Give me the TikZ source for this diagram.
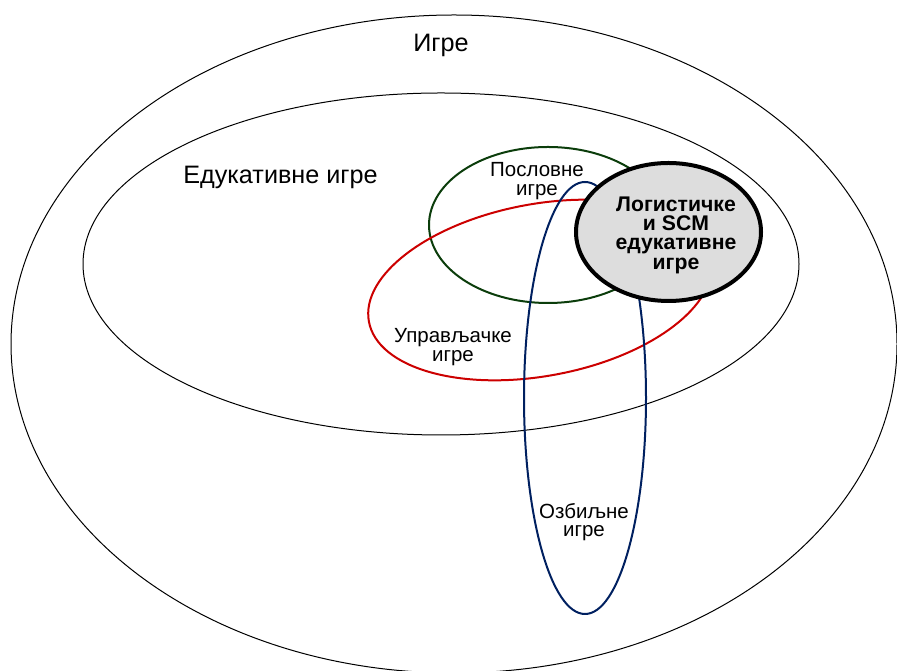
\documentclass[tikz,border=0pt]{standalone}
\usepackage{fontspec}
\setmainfont{Liberation Sans}
\definecolor{cgreen}{HTML}{0B3D0B}
\definecolor{cred}{HTML}{CC0000}
\definecolor{cblue}{HTML}{002060}
\definecolor{cgray}{HTML}{DDDDDD}
\begin{document}
\begin{tikzpicture}[x=1pt,y=1pt,
  lbl/.style={align=center,inner sep=0pt,font=\fontsize{20.5}{18.5}\selectfont},
  big/.style={inner sep=0pt,font=\fontsize{25.2}{26}\selectfont}]
\useasboundingbox (0,0) rectangle (897,671);
% outer and inner
\draw[line width=1pt] (454,327) ellipse [x radius=443pt, y radius=329pt];
\draw[line width=1pt] (441,407) ellipse [x radius=358pt, y radius=171pt];
% green
\draw[cgreen,line width=2pt] (548,446) ellipse [x radius=119pt, y radius=78pt];
% red
\draw[cred,line width=2pt,rotate around={10.5:(540,381)}] (540,381) ellipse [x radius=174pt, y radius=86pt];
% blue
\draw[cblue,line width=2pt] (585,273) ellipse [x radius=61pt, y radius=216pt];
% gray
\draw[line width=4pt,fill=cgray] (668.5,439) ellipse [x radius=92.5pt, y radius=69pt];
% texts
\node[big] (igre) at (441,626) {Игре};
\node[big] (edu) at (280.5,494) {Едукативне игре};
\node[lbl] (posl) at (537,490) {Пословне\\игре};
\node[lbl] (upr) at (453,324) {Управљачке\\игре};
\node[lbl] (ozb) at (584,149) {Озбиљне\\игре};
\node[lbl,font=\bfseries\fontsize{21.2}{19.3}\selectfont] (log) at (676,436) {Логистичке\\и SCM\\едукативне\\игре};
\end{tikzpicture}
\end{document}
